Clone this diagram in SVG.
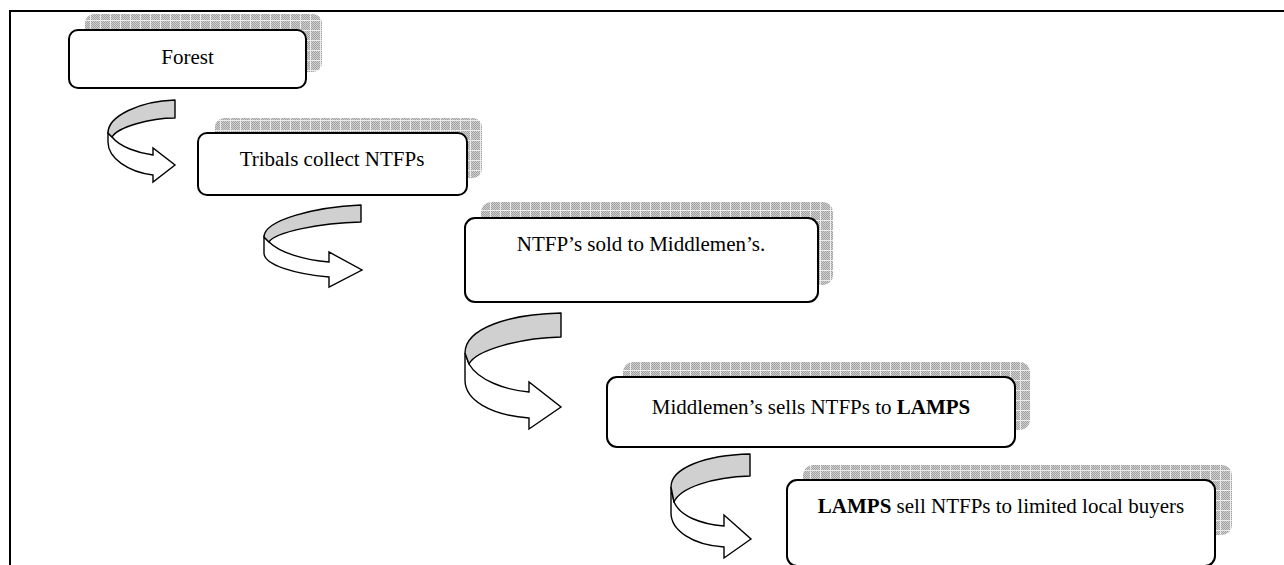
<svg xmlns="http://www.w3.org/2000/svg" width="1284" height="565" viewBox="0 0 1284 565">
<style>
.box{fill:#ffffff;stroke:#000000;stroke-width:2}
.shadow{fill:url(#grid);stroke:none}
.lbl{font-family:"Liberation Serif","Times New Roman",serif;font-size:21px;fill:#000000;text-anchor:middle}
.b{font-weight:bold}
.band{fill:#d0d0d0;stroke:#000000;stroke-width:1.4;stroke-linejoin:round}
.wband{fill:#ffffff;stroke:#000000;stroke-width:1.4;stroke-linejoin:miter}
.frame{fill:none;stroke:#000000;stroke-width:2}
</style>
<defs>
<pattern id="fine" width="2" height="2" patternUnits="userSpaceOnUse">
<rect width="2" height="2" fill="#cfcfcf"/>
<rect width="1" height="1" fill="#a2a2a2"/>
<rect x="1" y="1" width="1" height="1" fill="#a2a2a2"/>
</pattern>
<pattern id="grid" width="10" height="10" patternUnits="userSpaceOnUse">
<rect width="10" height="10" fill="url(#fine)"/>
<path d="M0.5 0V10M0 0.5H10" stroke="#ececec" stroke-width="1"/>
</pattern>
</defs>
<rect width="1284" height="565" fill="#ffffff"/>
<path class="frame" d="M10 565V11H1284"/>

<g id="node-forest">
<rect class="shadow" x="85" y="14" width="237" height="58" rx="9"/>
<rect class="box" x="69" y="30" width="237" height="58" rx="9"/>
<text class="lbl" x="187.5" y="64">Forest</text>
</g>

<g id="node-tribals">
<rect class="shadow" x="215" y="118" width="267" height="60" rx="9"/>
<rect class="box" x="198" y="133" width="269" height="62" rx="9"/>
<text class="lbl" x="332" y="166">Tribals collect NTFPs</text>
</g>

<g id="node-middlemen">
<rect class="shadow" x="481" y="202" width="352" height="83" rx="10"/>
<rect class="box" x="465" y="218" width="353" height="84" rx="10"/>
<text class="lbl" x="641" y="251">NTFP’s sold to Middlemen’s.</text>
</g>

<g id="node-lamps">
<rect class="shadow" x="623" y="362" width="407" height="68" rx="10"/>
<rect class="box" x="607" y="377" width="408" height="70" rx="10"/>
<text class="lbl" x="811" y="414">Middlemen’s sells NTFPs to <tspan class="b">LAMPS</tspan></text>
</g>

<g id="node-buyers">
<rect class="shadow" x="803" y="465" width="429" height="70" rx="10"/>
<rect class="box" x="787" y="480" width="428" height="86" rx="10"/>
<text class="lbl" x="1001" y="513"><tspan class="b">LAMPS</tspan> sell NTFPs to limited local buyers</text>
</g>

<g id="connectors">
<g id="arrow-1">
<path class="wband" d="M112 137C120 147 138 153 153 155L153 148L175 165L153 182L153 175C128 172 108 158 108 142L108 133Z"/>
<path class="band" d="M175 100C140 101 108 116 108 133L112 137C118 127 150 118 175 118Z"/>
</g>
<g id="arrow-2">
<path class="wband" d="M269 242C280 253 305 260 329 262L329 252L362 270L329 287L329 277C295 274 264 265 264 253L264 237Z"/>
<path class="band" d="M361 205C315 207 264 220 264 237L269 242C275 232 320 223 361 222Z"/>
</g>
<g id="arrow-3">
<path class="wband" d="M469 364C478 380 505 390 529 392L529 382L561 407L529 429L529 418C490 415 465 400 465 380L465 353Z"/>
<path class="band" d="M561 313C510 314 465 328 465 353L469 364C476 350 520 338 561 337Z"/>
</g>
<g id="arrow-4">
<path class="wband" d="M674 502C680 516 700 524 724 526L724 515L751 539L724 558L724 547C692 545 671 530 671 513L671 487Z"/>
<path class="band" d="M750 454C705 455 671 468 671 487L674 502C680 488 712 477 750 476Z"/>
</g>
</g>
</svg>
